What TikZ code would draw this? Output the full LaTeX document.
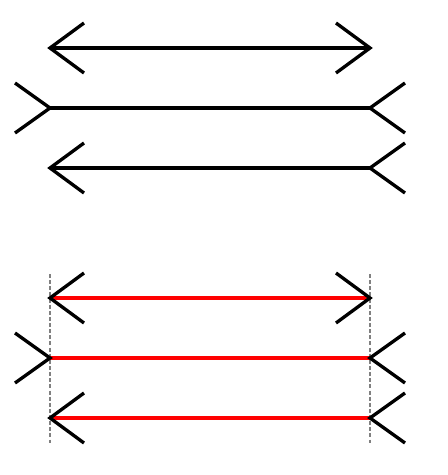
\documentclass[tikz,border=0pt]{standalone}
\begin{document}
\begin{tikzpicture}[x=0.75pt,y=-0.75pt,
  shaft/.style={line width=2.5pt},
  redshaft/.style={line width=2.5pt,red},
  fin/.style={line width=2.5pt,line join=miter},
  guide/.style={line width=1.3pt,gray,dash pattern=on 3pt off 1.6pt}]
\useasboundingbox (0,0) rectangle (447,475);
% guides
\coordinate (gLt) at (50,274); \coordinate (gLb) at (50,443);
\coordinate (gRt) at (370,274); \coordinate (gRb) at (370,443);
\draw[guide] (gLt) -- (gLb);
\draw[guide] (gRt) -- (gRb);
% top group
\foreach \y/\red in {0/0,250/1}{
  \begin{scope}[yshift=-\y*0.75pt]
  \coordinate (aL) at (50,48); \coordinate (aR) at (370,48);
  \coordinate (bL) at (50,108); \coordinate (bR) at (370,108);
  \coordinate (cL) at (50,168); \coordinate (cR) at (370,168);
  \ifnum\red=1
    \draw[redshaft] (aL) -- (aR);
    \draw[redshaft] (bL) -- (bR);
    \draw[redshaft] (cL) -- (cR);
  \else
    \draw[shaft] (aL) -- (aR);
    \draw[shaft] (bL) -- (bR);
    \draw[shaft] (cL) -- (cR);
  \fi
  \draw[fin] (84,23) -- (aL) -- (84,73);
  \draw[fin] (336,23) -- (aR) -- (336,73);
  \draw[fin] (15,83) -- (bL) -- (15,133);
  \draw[fin] (405,83) -- (bR) -- (405,133);
  \draw[fin] (84,143) -- (cL) -- (84,193);
  \draw[fin] (405,143) -- (cR) -- (405,193);
  \end{scope}
}
\end{tikzpicture}
\end{document}
